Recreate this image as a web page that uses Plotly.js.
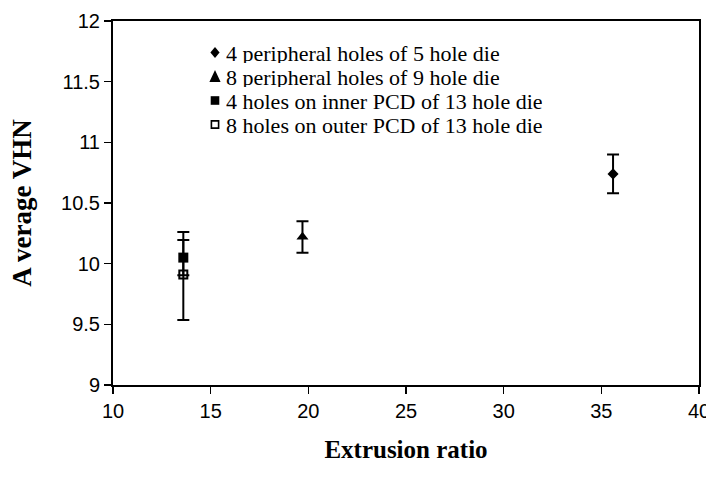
<!DOCTYPE html>
<html>
<head>
<meta charset="utf-8">
<script src="https://cdn.plot.ly/plotly-3.0.1.min.js"></script>
<style>
  html, body { margin: 0; padding: 0; background: #fff; }
  #chart { width: 706px; height: 489px; }
</style>
</head>
<body>
<div id="chart"></div>
<script>
// Hardness vs extrusion ratio for the different die designs
const seriesNames = [
  "4 peripheral holes of 5 hole die",
  "8 peripheral holes of 9 hole die",
  "4 holes on inner PCD of 13 hole die",
  "8 holes on outer PCD of 13 hole die"
];
const extrusionRatio = [35.6, 19.7, 13.6, 13.6];
const averageVHN = [10.74, 10.22, 10.05, 9.91];
const errPlus = [0.16, 0.13, 0.145, 0.35];
const errMinus = [0.16, 0.13, 0.145, 0.375];

const xTicks = [10, 15, 20, 25, 30, 35, 40];
const yTicks = [9, 9.5, 10, 10.5, 11, 11.5, 12];

const markerSymbols = ["diamond", "triangle-up", "square", "square-open"];
const markerSizes = [8.5, 10.5, 10, 8];

// plot area in pixels
const W = 706, H = 489;
const M = { l: 113, r: 7, t: 21, b: 104 };
const plotW = W - M.l - M.r, plotH = H - M.t - M.b;
const px = x => (x - M.l) / plotW;
const py = y => (H - M.b - y) / plotH;

const traces = seriesNames.map((name, i) => ({
  type: "scatter",
  mode: "markers",
  name: name,
  x: [extrusionRatio[i]],
  y: [averageVHN[i]],
  marker: {
    symbol: markerSymbols[i],
    size: markerSizes[i],
    color: "#000",
    line: { color: "#000", width: i === 3 ? 2 : 0 }
  },
  error_y: {
    type: "data",
    symmetric: false,
    array: [errPlus[i]],
    arrayminus: [errMinus[i]],
    color: "#000",
    thickness: 2,
    width: 6
  },
  showlegend: false
}));

// legend drawn as symbol shapes plus text lines
const legendRows = [52.5, 76.5, 100.5, 124.5];
const symbolX = 215;
const symbolPaths = [
  "M0,5.5 L4.6,0 L0,-5.5 L-4.6,0 Z",
  "M0,6.5 L5.6,-5.5 L-5.6,-5.5 Z",
  "M-4.3,4.3 L4.3,4.3 L4.3,-4.3 L-4.3,-4.3 Z",
  "M-3.6,3.6 L3.6,3.6 L3.6,-3.6 L-3.6,-3.6 Z"
];
const shapes = symbolPaths.map((p, i) => ({
  type: "path",
  xref: "paper", yref: "paper",
  xsizemode: "pixel", ysizemode: "pixel",
  xanchor: px(symbolX), yanchor: py(legendRows[i]),
  path: p,
  fillcolor: i === 3 ? "#fff" : "#000",
  line: { color: "#000", width: i === 3 ? 1.6 : 0 }
}));

const annotations = seriesNames.map((name, i) => ({
  xref: "paper", yref: "paper",
  x: px(225), y: py(legendRows[i]),
  xanchor: "left", yanchor: "middle",
  height: 20,
  borderpad: 0,
  text: name,
  showarrow: false,
  font: { family: "Liberation Serif, Times New Roman, serif", size: 22, color: "#000" }
}));

const axisCommon = {
  showgrid: false,
  zeroline: false,
  showline: true,
  linecolor: "#000",
  linewidth: 2,
  mirror: true,
  ticks: "outside",
  ticklen: 7,
  tickwidth: 1.3,
  tickcolor: "#000",
  tickfont: { family: "Liberation Sans, Arial, sans-serif", size: 20, color: "#000" },
  ticklabeloverflow: "allow",
  automargin: false
};

const layout = {
  width: W, height: H,
  margin: M,
  paper_bgcolor: "#fff",
  plot_bgcolor: "#fff",
  showlegend: false,
  xaxis: Object.assign({}, axisCommon, {
    range: [10, 40],
    tickvals: xTicks,
    ticktext: xTicks.map(String),
    title: {
      text: "<b>Extrusion ratio</b>",
      font: { family: "Liberation Serif, Times New Roman, serif", size: 25, color: "#000" },
      standoff: 19
    }
  }),
  yaxis: Object.assign({}, axisCommon, {
    range: [9, 12],
    tickvals: yTicks,
    ticktext: yTicks.map(String),
    title: {
      text: "<b>A verage VHN</b>",
      font: { family: "Liberation Serif, Times New Roman, serif", size: 27, color: "#000" },
      standoff: 22
    }
  }),
  shapes: shapes,
  annotations: annotations
};

Plotly.newPlot("chart", traces, layout, { displayModeBar: false, staticPlot: true });
</script>
</body>
</html>
